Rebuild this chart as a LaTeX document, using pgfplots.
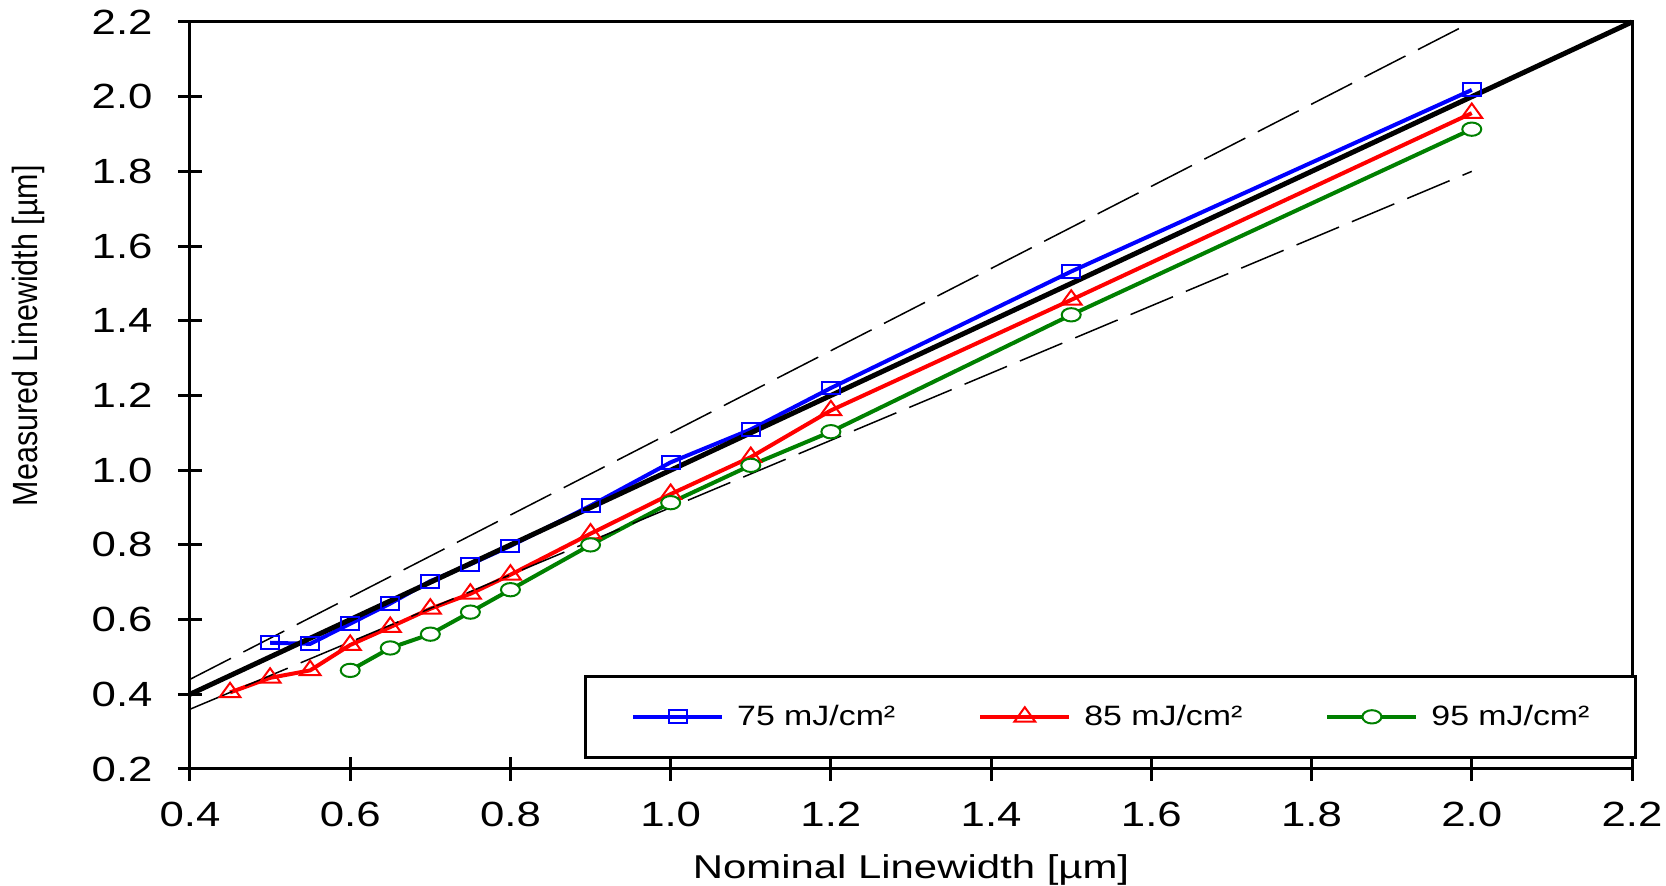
\documentclass[border=0pt]{standalone}
\usepackage{fontspec}
\setmainfont{Liberation Sans}
\usepackage{pgfplots}
\pgfplotsset{compat=1.18}
\definecolor{cblue}{RGB}{0,0,255}
\definecolor{cred}{RGB}{255,0,0}
\definecolor{cgreen}{RGB}{0,128,0}
\newcommand{\wide}[1]{\scalebox{1.21}[1]{#1}}
\newcommand{\widet}[1]{\scalebox{1.25}[1]{#1}}
\begin{document}
\begin{tikzpicture}
\begin{axis}[
  scale only axis, width=721pt, height=373.5pt,
  xmin=0.4, xmax=2.2, ymin=0.2, ymax=2.2,
  xtick={0.4,0.6,0.8,1.0,1.2,1.4,1.6,1.8,2.0,2.2},
  ytick={0.2,0.4,0.6,0.8,1.0,1.2,1.4,1.6,1.8,2.0,2.2},
  xtick pos=bottom, ytick pos=left,
  tick align=center, major tick length=12pt,
  line width=1.5pt,
  tick style={line width=1.5pt, black},
  /pgf/number format/fixed, /pgf/number format/fixed zerofill,
  /pgf/number format/precision=1, /pgf/number format/assume math mode=true,
  every tick label/.append style={font=\fontsize{17.5}{19}\selectfont, inner xsep=1pt},
  xticklabel={\widet{\pgfmathprintnumber{\tick}}},
  yticklabel={\widet{\pgfmathprintnumber{\tick}}},
  xticklabel style={yshift=-6.5pt},
  yticklabel style={xshift=-11pt},
  xlabel={\scalebox{1.27}[1]{Nominal Linewidth [µm]}},
  ylabel={\scalebox{0.87}[1]{Measured Linewidth [µm]}},
  xlabel style={at={(axis description cs:0.5,-0.146)}, anchor=base, inner sep=0pt, font=\fontsize{16.5}{20}\selectfont},
  ylabel style={at={(axis description cs:-0.112,0.58)}, anchor=center, inner sep=0pt, font=\fontsize{17.5}{20}\selectfont},
  clip=false,
  legend columns=3,
  legend style={at={(rel axis cs:1.0035,0.0134)}, anchor=south east, draw=black, line width=1.5pt,
    inner xsep=23pt, inner ysep=12.5pt, font=\fontsize{14}{16}\selectfont,
    nodes={inner xsep=0pt},
    /tikz/every odd column/.append style={column sep=6.5pt},
    /tikz/every even column/.append style={column sep=41.5pt}},
  legend image code/.code={
    \draw[mark repeat=2,mark phase=2,#1] plot coordinates {(0pt,0pt)(22.25pt,0pt)(44.5pt,0pt)};},
]
\addplot[color=cblue, line width=2pt, mark=square, mark size=4.5pt, mark options={fill=white, line width=1pt, yscale=0.72}] coordinates {
(0.5,0.538)(0.55,0.535)(0.6,0.589)(0.65,0.643)(0.7,0.703)(0.75,0.748)(0.8,0.797)(0.9,0.905)(1.0,1.021)(1.1,1.109)(1.2,1.220)(1.5,1.532)(2.0,2.018)};
\addlegendentry{\wide{75 mJ/cm²}}
\addplot[color=cred, line width=2pt, mark=triangle, mark size=6pt, mark options={fill=white, line width=1pt, yscale=0.8}] coordinates {
(0.45,0.405)(0.5,0.444)(0.55,0.464)(0.6,0.532)(0.65,0.580)(0.7,0.629)(0.75,0.669)(0.8,0.720)(0.9,0.830)(1.0,0.936)(1.1,1.035)(1.2,1.160)(1.5,1.456)(2.0,1.956)};
\addlegendentry{\wide{85 mJ/cm²}}
\addplot[color=cgreen, line width=2pt, mark=*, mark size=4.75pt, mark options={fill=white, line width=1pt, yscale=0.7}] coordinates {
(0.6,0.464)(0.65,0.524)(0.7,0.561)(0.75,0.620)(0.8,0.680)(0.9,0.800)(1.0,0.913)(1.1,1.013)(1.2,1.103)(1.5,1.416)(2.0,1.913)};
\addlegendentry{\wide{95 mJ/cm²}}
\addplot[forget plot, black, line width=0.75pt, dash pattern=on 23pt off 7pt] coordinates {(0.4,0.44)(2.0,2.2)};
\addplot[forget plot, black, line width=0.75pt, dash pattern=on 23pt off 7pt] coordinates {(0.4,0.36)(2.0,1.8)};
\addplot[forget plot, black, line width=2.5pt] coordinates {(0.4,0.4)(2.2,2.2)};
\end{axis}
\path ([shift={(-95pt,-58.5pt)}]current axis.south west) rectangle ([shift={(17pt,11pt)}]current axis.north east);
\end{tikzpicture}
\end{document}
